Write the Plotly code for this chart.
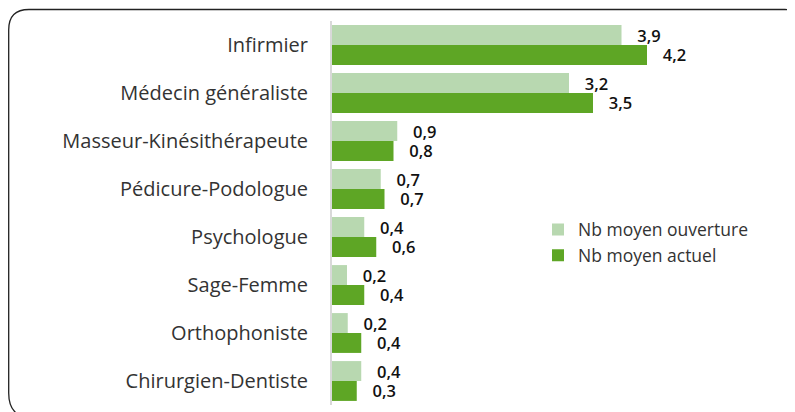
import plotly.graph_objects as go

categories = ["Infirmier", "Médecin généraliste", "Masseur-Kinésithérapeute",
              "Pédicure-Podologue", "Psychologue", "Sage-Femme",
              "Orthophoniste", "Chirurgien-Dentiste"]
ouverture = [3.86, 3.16, 0.87, 0.65, 0.43, 0.20, 0.21, 0.39]
actuel = [4.20, 3.48, 0.82, 0.70, 0.59, 0.43, 0.39, 0.33]
series_names = ["Nb moyen ouverture", "Nb moyen actuel"]

LIGHT = "#b8d8b0"
DARK = "#5ea625"

def fmt(v):
    return f"{v:.1f}".replace(".", ",")

OFF = 8  # page body margin
W, H = 787, 404
ML, MR, MT, MB = 324, 20, 13, 7
PW = W - ML - MR
PH = H - MT - MB

def px(x):
    return (x - OFF - ML) / PW

def py(y):
    return (H - MB - (y - OFF)) / PH

fig = go.Figure()
for name, vals, col in [(series_names[0], ouverture, LIGHT), (series_names[1], actuel, DARK)]:
    fig.add_trace(go.Bar(
        y=categories, x=vals, orientation="h", name=name,
        marker=dict(color=col, line=dict(width=0)),
        text=[fmt(v) for v in vals],
        texttemplate="   %{text}",
        textposition="outside",
        constraintext="none",
        textfont=dict(family="Open Sans", size=16.5, color="#111111", weight=600),
        cliponaxis=False,
        hoverinfo="skip",
    ))

border = (f"M {px(8.7)},{py(393)} L {px(8.7)},{py(30)} Q {px(8.7)},{py(9.5)} {px(29)},{py(9.5)} "
          f"L {px(785)},{py(9.5)} Q {px(810)},{py(9.5)} {px(810)},{py(34)} "
          f"L {px(810)},{py(418)} L {px(33)},{py(418)} Q {px(8.7)},{py(418)} {px(8.7)},{py(393)} Z")

fig.update_layout(
    width=W, height=H,
    margin=dict(l=ML, r=MR, t=MT, b=MB, autoexpand=False),
    paper_bgcolor="white", plot_bgcolor="white",
    barmode="group", bargap=0.17, bargroupgap=0.0,
    font=dict(family="Open Sans", color="#333333"),
    showlegend=True,
    legend=dict(x=px(538), y=py(242.5), xanchor="left", yanchor="middle",
                font=dict(family="Open Sans", size=17.5, color="#333333"),
                tracegroupgap=0, itemsizing="constant",
                bgcolor="rgba(0,0,0,0)", traceorder="normal"),
    xaxis=dict(range=[0, PW / 75.0], showgrid=False, zeroline=False,
               showticklabels=False, showline=False, ticks=""),
    yaxis=dict(autorange="reversed", showgrid=False, zeroline=False,
               showline=True, linecolor="#d9d9d9", linewidth=2,
               ticks="", ticklabelstandoff=18,
               tickfont=dict(family="Open Sans", size=20, color="#333333")),
    shapes=[dict(type="path", path=border, xref="paper", yref="paper",
                 line=dict(color="#222222", width=1.3), fillcolor="rgba(0,0,0,0)",
                 layer="below")],
)

fig.write_html("out.html")
